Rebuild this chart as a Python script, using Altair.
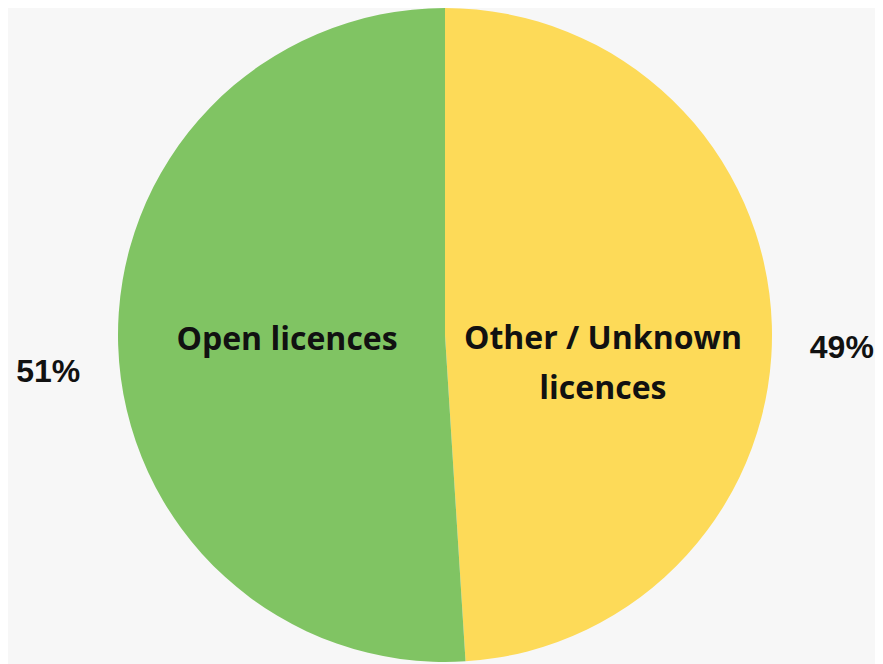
import altair as alt
import pandas as pd

categories = ["Other / Unknown licences", "Open licences"]
inner_labels = ["Other / Unknown\nlicences", "Open licences"]
shares = [49, 51]
pct_labels = ["49%", "51%"]
order_idx = [0, 1]
colors = ["#FDDA58", "#80C463"]

df = pd.DataFrame({
    "category": categories,
    "inner": inner_labels,
    "share": shares,
    "pct": pct_labels,
    "idx": order_idx,
})

W, H = 867, 656
R = 327
CX, CY = 437, 327

base = alt.Chart(df).encode(
    theta=alt.Theta("share:Q", stack=True),
    order=alt.Order("idx:Q"),
)

pie = base.mark_arc(outerRadius=R, x=CX, y=CY, stroke=None).encode(
    color=alt.Color("category:N", scale=alt.Scale(domain=categories, range=colors), legend=None)
)

txt_common = dict(font="Open Sans", fontWeight="bold", fontSize=32, color="#111111",
                  x=CX, y=CY, lineBreak="\n", lineHeight=50, align="center", baseline="middle")

inner_green = base.transform_calculate(
    t="datum.category == 'Open licences' ? datum.inner : ''"
).mark_text(radius=158, dy=0, **txt_common).encode(text="t:N")

inner_yellow = base.transform_calculate(
    t="datum.category == 'Open licences' ? '' : datum.inner"
).mark_text(radius=158, dy=9, **txt_common).encode(text="t:N")

outer = base.mark_text(
    radius=397, dy=25, x=CX, y=CY, font="Liberation Sans", fontWeight="bold",
    fontSize=32, color="#111111", align="center", baseline="middle"
).encode(text="pct:N")

chart = alt.layer(pie, inner_green, inner_yellow, outer).properties(
    width=W, height=H, autosize="none", padding=0, background="#F7F7F7"
).configure_view(stroke=None)

chart.save("out.html", embed_options={"renderer": "svg", "actions": False})
